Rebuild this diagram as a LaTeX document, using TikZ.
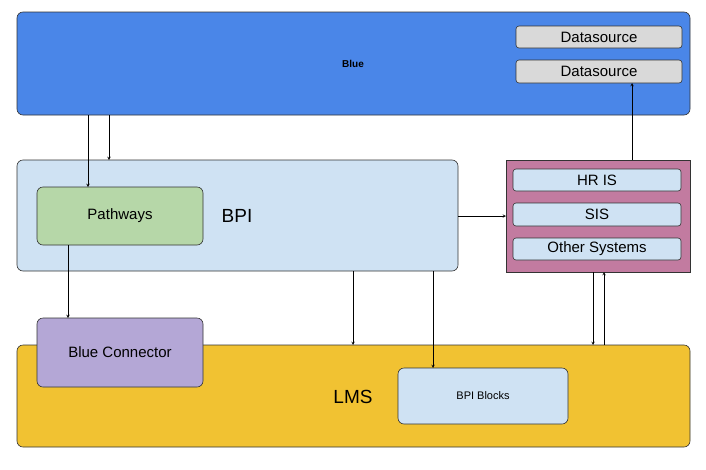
\documentclass[tikz,border=0pt]{standalone}
\usepackage{fontspec}
\setmainfont{Liberation Sans}
\begin{document}
\begin{tikzpicture}[x=1pt,y=-1pt,
 box/.style={draw=black!80,rounded corners=6pt,line width=0.6pt,font=\fontsize{15}{18}\selectfont},
 small/.style={draw=black!80,rounded corners=3pt,line width=0.6pt,fill=lb,font=\fontsize{15}{18}\selectfont},
 big/.style={font=\fontsize{19}{22}\selectfont},
 arr/.style={-stealth,line width=0.5pt}]
\definecolor{bl}{HTML}{4A86E8}\definecolor{lb}{HTML}{CFE2F3}
\definecolor{gr}{HTML}{B6D7A8}\definecolor{pu}{HTML}{B4A7D6}
\definecolor{ye}{HTML}{F1C232}\definecolor{pk}{HTML}{C27BA0}
\definecolor{gy}{HTML}{D9D9D9}
\useasboundingbox (0,0) rectangle (706,469);
\path[box,fill=bl] (17,12) rectangle (690,115);
\node[big,font=\bfseries] (blue) at (353,64) {Blue};
\node[small,fill=gy,minimum width=166pt,minimum height=22pt] (ds1) at (599,37) {Datasource};
\node[small,fill=gy,minimum width=166pt,minimum height=23pt] (ds2) at (599,71.5) {Datasource};
\path[box,fill=lb] (17,160) rectangle (458,271);
\node[big] (bpi) at (237,216) {BPI};
\node[box,fill=gr,minimum width=166pt,minimum height=58pt] (pw) at (120,216) {Pathways};
\path[draw=black!80,line width=0.6pt,fill=pk] (506,160) rectangle (690,272);
\node[small,minimum width=168pt,minimum height=22pt] (hr) at (597,180) {HR IS};
\node[small,minimum width=168pt,minimum height=23pt] (sis) at (597,214.5) {SIS};
\node[small,minimum width=168pt,minimum height=22pt] (os) at (597,249) {Other Systems};
\path[box,fill=ye] (17,345) rectangle (690,447);
\node[big] (lms) at (353,397) {LMS};
\node[box,fill=pu,minimum width=166pt,minimum height=69pt] (bc) at (120,352.5) {Blue Connector};
\node[box,fill=lb,minimum width=170pt,minimum height=56pt,font=\fontsize{11}{13}\selectfont] (bb) at (483,396) {BPI Blocks};
\coordinate (b1) at (88,115); \coordinate (b2) at (109,115);
\draw[arr] (b1) -- (88,187);
\draw[arr] (b2) -- (109,160);
\draw[arr] (68,245) -- (68,318);
\draw[arr] (353,271) -- (353,345);
\draw[arr] (433,271) -- (433,368);
\draw[arr] (458,216) -- (506,216);
\draw[arr] (632,160) -- (632,83);
\draw[arr] (593,272) -- (593,345);
\draw[arr] (604,345) -- (604,272);
\end{tikzpicture}
\end{document}
